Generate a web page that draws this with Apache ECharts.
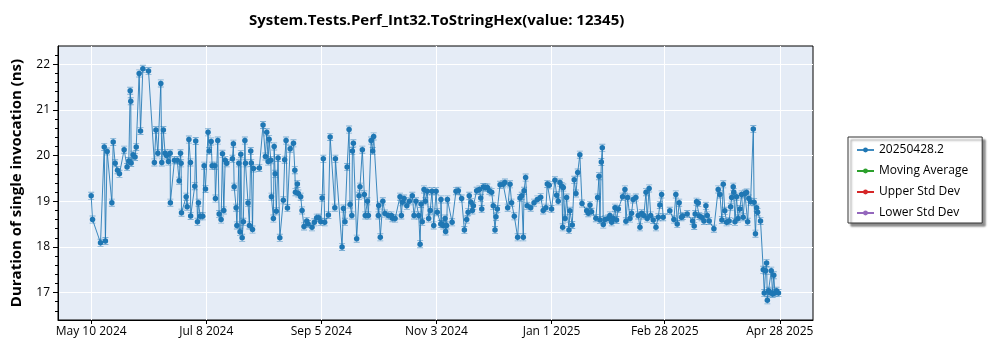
<!DOCTYPE html>
<html style="height: 100%">
<head>
    <meta charset="utf-8">
    <title>System.Tests.Perf_Int32.ToStringHex(value: 12345)</title>
    <script src="https://cdn.jsdelivr.net/npm/echarts@6/dist/echarts.min.js"></script>
</head>
<body style="height: 100%; margin: 0; background: #fff">
<div id="container" style="width: 1000px; height: 350px"></div>
<script type="text/javascript">
    // days since May 10 2024
    var dayOffsets = [
        0, 0.7, 4.8, 6.7, 7.3, 8.2, 10.6, 11.3, 12.3, 13.5, 14.5, 16.9, 18.4, 19.3, 20.0, 20.3, 20.5, 21.5, 22.5, 23.1,
        24.6, 25.3, 26.5, 29.4, 32.4, 33.2, 34.2, 35.7, 36.2, 37.0, 37.9, 38.6, 39.6, 40.5, 40.6, 42.7, 44.1, 45.1, 45.8, 46.1,
        46.3, 48.7, 49.2, 50.1, 50.9, 51.0, 53.1, 53.6, 54.5, 55.0, 55.9, 57.2, 57.9, 58.6, 59.9, 60.5, 61.5, 62.0, 63.4, 63.7,
        64.9, 65.6, 66.6, 67.3, 68.0, 68.7, 69.5, 72.4, 72.9, 73.3, 74.3, 74.7, 75.7, 76.3, 76.7, 77.4, 78.0, 78.8, 79.1, 80.4,
        81.1, 81.8, 82.1, 82.7, 83.2, 86.2, 88.1, 89.3, 90.0, 90.7, 91.2, 92.1, 92.4, 93.4, 93.8, 94.3, 94.9, 95.8, 96.7, 98.5,
        99.2, 99.9, 100.6, 102.0, 103.7, 104.4, 104.7, 105.7, 106.2, 107.4, 108.1, 109.1, 110.5, 111.2, 113.2, 114.4, 115.6, 116.7, 117.7, 118.4,
        119.0, 119.7, 121.6, 122.5, 124.9, 125.2, 128.6, 129.3, 130.1, 131.2, 132.2, 132.7, 133.6, 133.9, 134.4, 136.1, 137.3, 137.8, 139.0, 140.0,
        140.5, 141.6, 142.1, 143.5, 144.3, 144.8, 147.2, 147.4, 148.2, 149.5, 150.6, 152.3, 153.9, 154.4, 155.8, 158.3, 159.0, 159.5, 160.4, 161.8,
        163.1, 164.6, 165.5, 166.5, 167.9, 168.6, 169.1, 169.7, 170.6, 171.3, 172.3, 173.0, 173.8, 174.7, 175.6, 176.8, 177.4, 179.2, 179.3, 179.7,
        180.5, 181.4, 181.7, 182.2, 182.6, 185.0, 187.0, 188.2, 189.9, 191.3, 192.5, 193.2, 193.8, 194.7, 195.4, 195.9, 197.6, 199.0, 199.7, 200.2,
        201.0, 202.0, 203.1, 204.1, 205.3, 206.1, 207.0, 207.5, 208.2, 209.6, 211.2, 212.1, 213.5, 214.7, 215.5, 216.9, 218.6, 219.8, 220.7, 221.5,
        221.9, 222.7, 223.5, 225.3, 227.0, 228.7, 230.4, 231.7, 233.1, 233.8, 234.8, 236.0, 237.7, 238.6, 239.4, 240.3, 241.2, 241.7, 242.0, 242.9,
        243.7, 244.9, 245.4, 246.6, 247.6, 248.5, 249.4, 250.5, 251.6, 254.0, 254.8, 255.7, 256.5, 258.7, 259.6, 260.3, 260.8, 261.5, 262.0, 262.5,
        263.4, 265.0, 265.9, 266.8, 267.6, 268.5, 269.3, 270.2, 272.4, 273.6, 274.1, 275.0, 276.2, 277.0, 277.8, 279.2, 280.4, 281.3, 282.2, 283.3,
        284.4, 285.0, 286.0, 286.8, 288.1, 289.5, 290.7, 291.5, 292.4, 293.2, 296.6, 298.7, 299.7, 300.4, 301.4, 302.6, 303.2, 305.5, 308.3, 309.1,
        309.6, 310.3, 311.2, 311.7, 312.9, 314.1, 315.1, 315.8, 316.8, 319.2, 321.4, 322.3, 323.3, 324.0, 324.8, 325.7, 327.0, 327.8, 328.3, 329.1,
        329.4, 330.0, 330.8, 331.6, 332.5, 333.4, 334.2, 335.1, 336.0, 336.5, 337.1, 338.0, 339.4, 339.8, 340.5, 341.1, 341.6, 343.1, 344.5, 345.0,
        345.7, 346.2, 346.6, 347.2, 347.9, 348.6, 349.3, 349.9, 350.5, 351.3, 352.3
    ];
    var durations = [
        19.12, 18.60, 18.09, 20.19, 18.13, 20.09, 18.97, 20.30, 19.83, 19.68, 19.60, 20.13, 19.75, 19.88, 21.42, 21.19, 19.84, 20.02, 19.97, 20.19,
        21.80, 20.54, 21.90, 21.85, 19.85, 20.56, 20.05, 21.58, 19.85, 20.56, 20.05, 20.00, 19.87, 20.05, 18.97, 19.90, 19.90, 19.45, 20.05, 19.83,
        18.75, 19.10, 18.88, 20.35, 19.85, 18.68, 19.33, 20.32, 18.55, 18.97, 18.67, 18.67, 19.78, 19.27, 20.51, 20.10, 20.31, 19.78, 19.78, 19.06,
        20.33, 18.72, 18.60, 20.04, 18.80, 19.90, 19.83, 19.93, 20.26, 19.32, 18.86, 18.47, 19.83, 18.33, 20.03, 18.20, 18.55, 20.33, 19.83, 18.96,
        18.47, 20.10, 19.84, 18.38, 19.72, 19.73, 20.67, 19.98, 20.51, 19.87, 20.36, 19.90, 19.10, 18.62, 20.20, 19.60, 18.78, 19.95, 18.20, 19.02,
        19.91, 20.33, 18.85, 20.15, 20.27, 19.68, 19.20, 19.38, 19.17, 19.10, 18.80, 18.45, 18.57, 18.50, 18.43, 18.54, 18.64, 18.64, 18.55, 19.07,
        19.93, 18.54, 18.70, 20.41, 18.86, 19.93, 18.00, 18.84, 18.55, 19.75, 20.57, 18.93, 18.69, 20.10, 20.27, 18.18, 19.12, 19.32, 20.13, 19.15,
        18.69, 19.00, 18.69, 20.33, 20.10, 20.42, 18.69, 18.91, 18.21, 19.00, 18.73, 18.69, 18.69, 18.63, 18.62, 19.10, 18.69, 18.98, 19.06, 18.90,
        19.00, 19.12, 18.69, 19.00, 18.69, 18.06, 18.94, 18.55, 19.26, 19.00, 19.22, 18.62, 18.80, 19.22, 18.47, 19.22, 18.76, 18.50, 19.04, 18.50,
        18.47, 18.62, 18.34, 18.47, 19.04, 18.54, 19.22, 19.23, 19.06, 18.37, 18.60, 18.76, 19.12, 18.98, 18.80, 18.90, 19.23, 19.26, 19.07, 18.83,
        19.31, 19.30, 19.30, 19.23, 19.20, 18.90, 18.37, 18.66, 18.83, 19.36, 19.37, 19.41, 18.86, 19.37, 18.97, 18.67, 18.21, 19.07, 19.12, 18.21,
        19.23, 19.52, 18.90, 18.86, 18.97, 19.04, 19.09, 18.80, 18.86, 19.38, 19.35, 18.83, 19.46, 19.13, 19.00, 19.41, 19.33, 18.43, 19.30, 18.62,
        19.08, 18.37, 18.79, 18.48, 19.47, 19.17, 19.63, 20.02, 18.95, 18.79, 18.74, 18.92, 18.77, 18.63, 19.08, 19.55, 18.59, 19.86, 20.17, 18.49,
        18.60, 18.62, 18.69, 18.54, 18.62, 18.86, 18.59, 18.83, 19.10, 19.26, 18.56, 19.08, 18.62, 18.74, 19.04, 19.08, 18.69, 18.43, 18.74, 18.69,
        19.20, 18.62, 19.28, 18.69, 18.59, 18.43, 18.65, 18.92, 19.15, 18.65, 18.79, 18.60, 19.15, 18.50, 18.97, 18.65, 18.68, 18.72, 18.57, 18.46,
        18.72, 18.99, 18.96, 18.68, 18.65, 18.57, 18.90, 18.69, 18.57, 18.40, 19.26, 19.15, 18.59, 19.37, 18.79, 18.54, 18.57, 18.88, 19.08, 19.32,
        19.20, 18.55, 19.10, 18.62, 18.83, 19.15, 18.65, 19.17, 19.19, 18.55, 19.06, 18.99, 20.58, 18.98, 18.29, 18.86, 18.76, 18.57, 17.50, 16.99,
        17.48, 17.65, 16.83, 17.04, 17.00, 17.48, 16.97, 17.38, 16.99, 17.04, 16.99
    ];
    var tickDays = [0, 59, 118, 177, 236, 294, 353];
    var tickLabels = ['May 10 2024', 'Jul 8 2024', 'Sep 5 2024', 'Nov 3 2024', 'Jan 1 2025', 'Feb 28 2025', 'Apr 28 2025'];
    var yTicks = [17, 18, 19, 20, 21, 22];
    var seriesNames = ['20250428.2', 'Moving Average', 'Upper Std Dev', 'Lower Std Dev'];
    var seriesColors = ['#1f77b4', '#2ca02c', '#d62728', '#9467bd'];

    var points = [];
    for (var i = 0; i < dayOffsets.length; i++) {
        points.push([dayOffsets[i], durations[i]]);
    }

    var myChart = echarts.init(document.getElementById('container'));
    var font = 'Open Sans';
    // whisker glyph drawn behind each point (caps + stem)
    var capPath = 'path://M0 0H7V1H0Z M0 8H7V9H0Z M3 0H4V9H3Z';

    var series = [{
        name: 'caps',
        type: 'scatter',
        data: points,
        symbol: capPath,
        symbolSize: [6, 8],
        itemStyle: {color: 'rgba(31,119,180,0.65)'},
        silent: true,
        z: 1
    }, {
        name: seriesNames[0],
        type: 'line',
        data: points,
        symbol: 'circle',
        symbolSize: 5.5,
        color: seriesColors[0],
        lineStyle: {width: 1, opacity: 0.85},
        z: 2
    }];
    for (var j = 1; j < seriesNames.length; j++) {
        series.push({name: seriesNames[j], type: 'line', data: [], symbol: 'circle', symbolSize: 5,
            color: seriesColors[j], lineStyle: {width: 1}});
    }

    var option = {
        animation: false,
        title: {
            text: 'System.Tests.Perf_Int32.ToStringHex(value: 12345)',
            left: 244, top: 8,
            textStyle: {fontFamily: font, fontSize: 15, fontWeight: 'bold', color: '#000'}
        },
        legend: {
            orient: 'vertical', left: 848, top: 137,
            data: seriesNames,
            itemWidth: 17, itemHeight: 6, itemGap: 9,
            padding: [7, 14, 4, 8],
            backgroundColor: '#fff', borderColor: '#333', borderWidth: 1, borderRadius: 0,
            shadowColor: 'rgba(0,0,0,0.45)', shadowBlur: 2, shadowOffsetX: 3, shadowOffsetY: 3,
            textStyle: {fontFamily: font, fontSize: 12, color: '#000'}
        },
        grid: {
            left: 58, right: 187, top: 46, bottom: 30,
            show: true, backgroundColor: '#e5ecf6', borderColor: '#000', borderWidth: 1
        },
        xAxis: {
            type: 'value', min: -17, max: 370,
            axisLine: {onZero: false, lineStyle: {color: '#000'}},
            axisTick: {customValues: tickDays, length: 4, lineStyle: {color: '#000'}},
            axisLabel: {
                customValues: tickDays, color: '#000', fontFamily: font, fontSize: 12, margin: 6,
                formatter: function (v) {
                    var k = tickDays.indexOf(Math.round(v));
                    return k >= 0 ? tickLabels[k] : '';
                }
            },
            splitLine: {show: true, lineStyle: {color: '#fff', width: 1}}
        },
        yAxis: {
            type: 'value', min: 16.4, max: 22.4,
            name: 'Duration of single invocation (ns)', nameLocation: 'middle', nameGap: 34,
            nameTextStyle: {fontFamily: font, fontSize: 15, fontWeight: 'bold', color: '#000'},
            axisLine: {show: true, onZero: false, lineStyle: {color: '#000'}},
            axisTick: {show: true, customValues: yTicks, length: 5, lineStyle: {color: '#000'}},
            minorTick: {show: true, splitNumber: 5, length: 3, lineStyle: {color: '#000'}},
            axisLabel: {customValues: yTicks, color: '#000', fontFamily: font, fontSize: 12, margin: 8},
            splitLine: {show: true, lineStyle: {color: '#fff', width: 1}}
        },
        series: series
    };
    myChart.setOption(option);
</script>
</body>
</html>
